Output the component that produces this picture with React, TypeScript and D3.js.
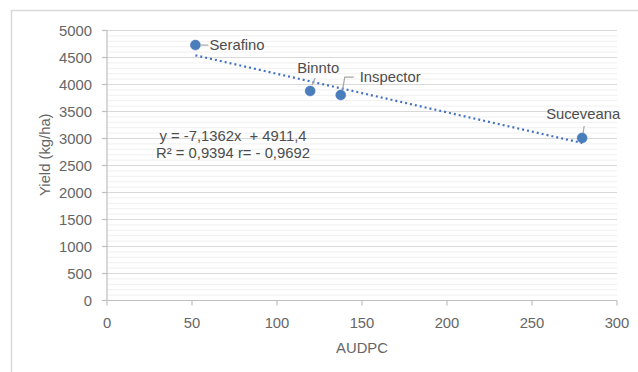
import React from "react";
import * as d3 from "d3";

const cultivars = ["Serafino", "Binnto", "Inspector", "Suceveana"];
const audpc = [52, 119.5, 137.5, 279.5];
const yieldKg = [4730, 3880, 3805, 3010];
const xTicks = [0, 50, 100, 150, 200, 250, 300];
const yTicks = [0, 500, 1000, 1500, 2000, 2500, 3000, 3500, 4000, 4500, 5000];
const slope = -7.1362;
const intercept = 4911.4;
const eqLine1 = "y = -7,1362x  + 4911,4";
const eqLine2 = "R² = 0,9394 r= - 0,9692";

const W = 638;
const H = 372;
const FONT = "'Liberation Sans', Arial, sans-serif";

export default function App() {
  const x = d3.scaleLinear().domain([0, 300]).range([107, 617]);
  const y = d3.scaleLinear().domain([0, 5000]).range([300.5, 30.5]);
  const minor = d3.range(0, 5001, 100).filter((v) => v % 500 !== 0);
  const xMin = d3.min(audpc)!;
  const xMax = d3.max(audpc)!;
  const trend = d3
    .line<number>()
    .x((d) => x(d))
    .y((d) => y(slope * d + intercept))([xMin, xMax]);

  const pts = cultivars.map((c, i) => ({ c, px: x(audpc[i]), py: y(yieldKg[i]) }));
  const lead = "#a6a6a6";
  const labCol = "#4d4d4d";
  const fs = 14.8;

  return (
    <svg
      width={W}
      height={H}
      style={{ position: "absolute", left: 0, top: 0, background: "#fff" }}
      fontFamily={FONT}
    >
      <rect x={0} y={0} width={W} height={H} fill="#fff" />
      {/* outer frame */}
      <path d={`M11.5,${H} V10.5 H${W}`} fill="none" stroke="#d9d9d9" strokeWidth={1.5} />
      {/* minor grid */}
      {minor.map((v) => (
        <line key={"m" + v} x1={x(0)} x2={x(300)} y1={y(v)} y2={y(v)} stroke="#f0f0f0" strokeWidth={1} />
      ))}
      {/* major grid */}
      {yTicks.map((v) => (
        <line key={"g" + v} x1={x(0)} x2={x(300)} y1={y(v)} y2={y(v)} stroke="#d9d9d9" strokeWidth={1.2} />
      ))}
      {/* axes */}
      <line x1={x(0)} x2={x(0)} y1={y(0)} y2={y(5000)} stroke="#bfbfbf" strokeWidth={1.2} />
      <line x1={x(0)} x2={x(300)} y1={y(0)} y2={y(0)} stroke="#bfbfbf" strokeWidth={1.2} />
      {yTicks.map((v) => (
        <g key={"yt" + v}>
          <line x1={x(0) - 5} x2={x(0)} y1={y(v)} y2={y(v)} stroke="#bfbfbf" strokeWidth={1.2} />
          <text x={x(0) - 15} y={y(v)} dy="0.35em" textAnchor="end" fontSize={fs} fill="#666666">
            {v}
          </text>
        </g>
      ))}
      {xTicks.map((v) => (
        <g key={"xt" + v}>
          <line x1={x(v)} x2={x(v)} y1={y(0)} y2={y(0) + 5} stroke="#bfbfbf" strokeWidth={1.2} />
          <text x={x(v)} y={y(0) + 22} dy="0.35em" textAnchor="middle" fontSize={fs} fill="#666666">
            {v}
          </text>
        </g>
      ))}
      <text x={x(150)} y={348} dy="0.35em" textAnchor="middle" fontSize={fs} fill="#666666">
        AUDPC
      </text>
      <text
        transform={`translate(45,${y(2700)}) rotate(-90)`}
        textAnchor="middle"
        dy="0.35em"
        fontSize={fs}
        fill="#666666"
      >
        Yield (kg/ha)
      </text>
      {/* trendline */}
      <path d={trend!} fill="none" stroke="#4472c4" strokeWidth={2.2} strokeDasharray="2,3" />
      {/* markers */}
      {pts.map((p) => (
        <circle key={p.c} cx={p.px} cy={p.py} r={5} fill="#4a7ebb" stroke="#4472c4" strokeWidth={0.5} />
      ))}
      {/* data labels with leader lines */}
      <line x1={pts[0].px + 5} x2={pts[0].px + 13} y1={pts[0].py} y2={pts[0].py} stroke={lead} strokeWidth={1.2} />
      <text x={pts[0].px + 14} y={pts[0].py} dy="0.35em" fontSize={fs} fill={labCol}>
        {cultivars[0]}
      </text>

      <line x1={pts[1].px + 2} x2={pts[1].px + 5} y1={pts[1].py - 6} y2={pts[1].py - 13} stroke={lead} strokeWidth={1.2} />
      <text x={pts[1].px + 8} y={pts[1].py - 23} dy="0.35em" textAnchor="middle" fontSize={fs} fill={labCol}>
        {cultivars[1]}
      </text>

      <path
        d={`M${pts[2].px + 2},${pts[2].py - 6} L${pts[2].px + 4},${pts[2].py - 18} H${pts[2].px + 13}`}
        fill="none"
        stroke={lead}
        strokeWidth={1.2}
      />
      <text x={pts[2].px + 19} y={pts[2].py - 18} dy="0.35em" fontSize={fs} fill={labCol}>
        {cultivars[2]}
      </text>

      <line x1={pts[3].px + 1} x2={pts[3].px + 2} y1={pts[3].py - 5} y2={pts[3].py - 12} stroke={lead} strokeWidth={1.2} />
      <text x={pts[3].px + 1} y={pts[3].py - 24} dy="0.35em" textAnchor="middle" fontSize={fs} fill={labCol}>
        {cultivars[3]}
      </text>

      {/* equation */}
      <text x={233} y={136} dy="0.35em" textAnchor="middle" fontSize={fs} fill={labCol} style={{ whiteSpace: "pre" }}>
        {eqLine1}
      </text>
      <text x={233} y={153} dy="0.35em" textAnchor="middle" fontSize={fs} fill={labCol}>
        {eqLine2}
      </text>
    </svg>
  );
}
